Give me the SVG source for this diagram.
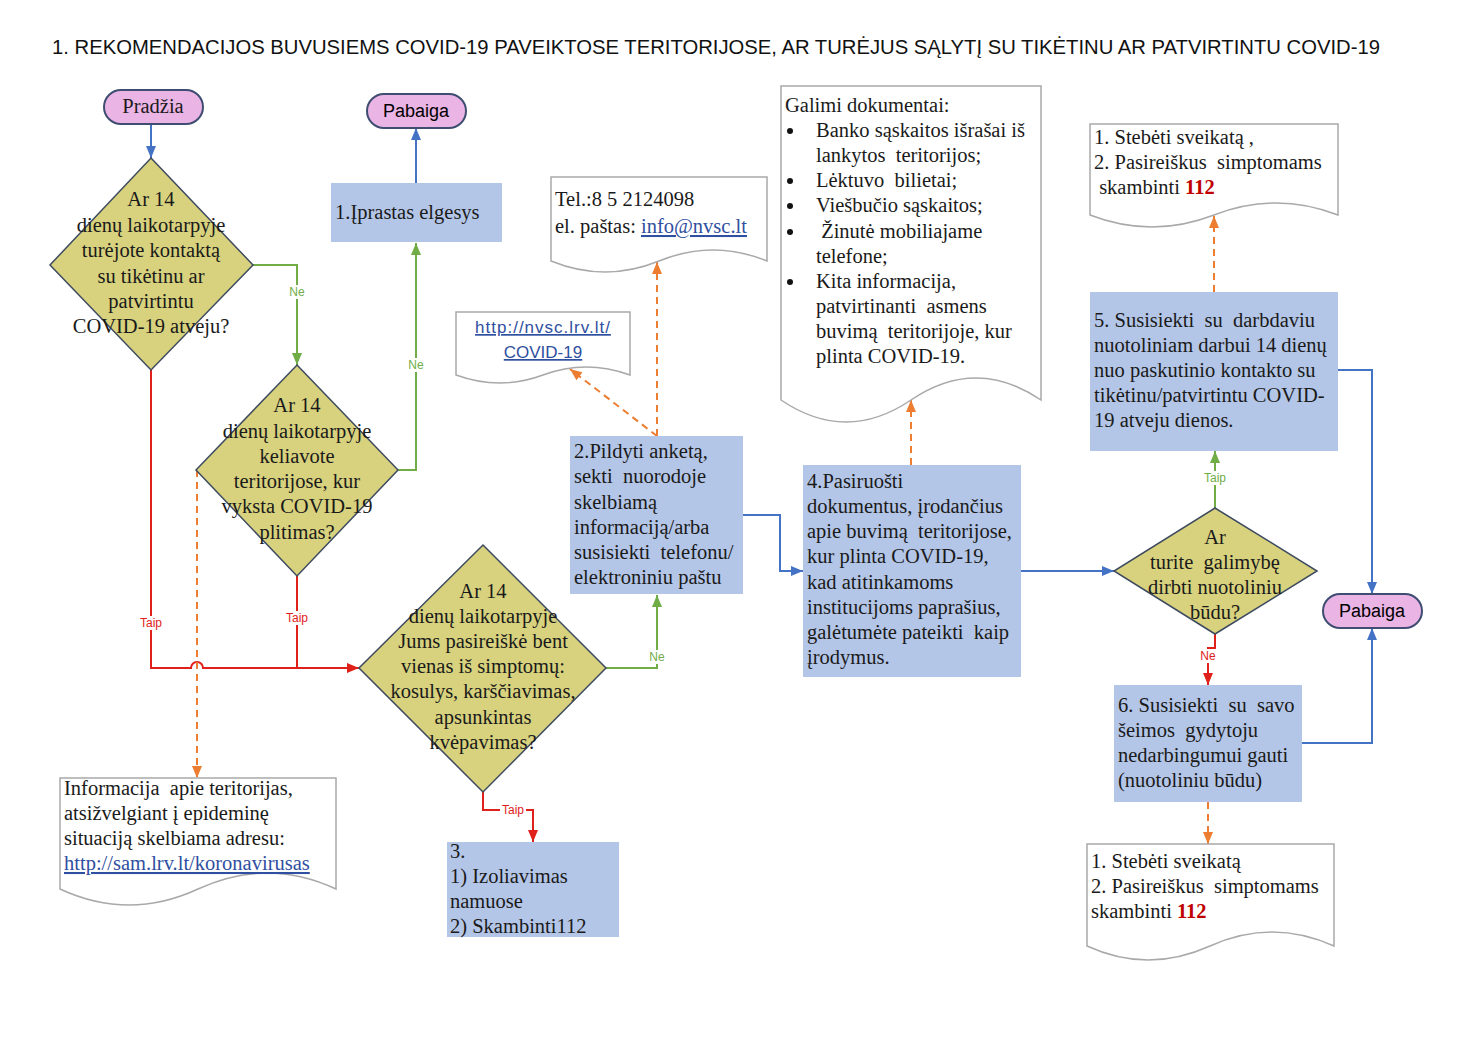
<svg xmlns="http://www.w3.org/2000/svg" width="1472" height="1040" viewBox="0 0 1472 1040" xml:space="preserve">
<defs>
<style>
.t{font-family:"Liberation Serif","Times New Roman",serif;font-size:20.5px;fill:#1a1a1a;white-space:pre}
.c{text-anchor:middle}
.s{font-family:"Liberation Sans",Arial,sans-serif}
.box{fill:#B4C6E7}
.dia{fill:#D8D27E;stroke:#3E4B5F;stroke-width:1.5}
.pill{fill:#EAB4E4;stroke:#3F4D72;stroke-width:2}
.doc{fill:#fff;stroke:#A9A9A9;stroke-width:1.5}
.lk{fill:#2F4FA0;text-decoration:underline}
.cb{stroke:#4472C4;stroke-width:2;fill:none}
.cg{stroke:#70AD47;stroke-width:2;fill:none}
.cr{stroke:#E0201B;stroke-width:2;fill:none}
.co{stroke:#ED7D31;stroke-width:2;fill:none;stroke-dasharray:7 5}
.lb{font-family:"Liberation Sans",Arial,sans-serif;font-size:12px;text-anchor:middle}
</style>
<marker id="mb" viewBox="0 0 12 10" refX="12" refY="5" markerWidth="12" markerHeight="10" markerUnits="userSpaceOnUse" orient="auto"><path d="M0,0 L12,5 L0,10 z" fill="#4472C4"/></marker>
<marker id="mg" viewBox="0 0 12 10" refX="12" refY="5" markerWidth="12" markerHeight="10" markerUnits="userSpaceOnUse" orient="auto"><path d="M0,0 L12,5 L0,10 z" fill="#70AD47"/></marker>
<marker id="mr" viewBox="0 0 12 10" refX="12" refY="5" markerWidth="12" markerHeight="10" markerUnits="userSpaceOnUse" orient="auto"><path d="M0,0 L12,5 L0,10 z" fill="#E0201B"/></marker>
<marker id="mo" viewBox="0 0 12 10" refX="12" refY="5" markerWidth="12" markerHeight="10" markerUnits="userSpaceOnUse" orient="auto"><path d="M0,0 L12,5 L0,10 z" fill="#ED7D31"/></marker>
</defs>
<rect width="1472" height="1040" fill="#fff"/>

<text x="52" y="54" font-family="Liberation Sans, Arial, sans-serif" font-size="20" fill="#111" textLength="1328" lengthAdjust="spacingAndGlyphs">1. REKOMENDACIJOS BUVUSIEMS COVID-19 PAVEIKTOSE TERITORIJOSE, AR TURĖJUS SĄLYTĮ SU TIKĖTINU AR PATVIRTINTU COVID-19</text>

<g id="connectors">
<path class="cb" d="M151,124 V158" marker-end="url(#mb)"/>
<path class="cb" d="M416,183 V128" marker-end="url(#mb)"/>
<path class="cb" d="M743,515 H780 V571 H803" marker-end="url(#mb)"/>
<path class="cb" d="M1021,571 H1114" marker-end="url(#mb)"/>
<path class="cb" d="M1338,370 H1372 V594" marker-end="url(#mb)"/>
<path class="cb" d="M1302,743 H1372 V628" marker-end="url(#mb)"/>
<path class="cg" d="M253,265 H297 V365" marker-end="url(#mg)"/>
<path class="cg" d="M398,470 H416 V243" marker-end="url(#mg)"/>
<path class="cg" d="M606,668 H657 V595" marker-end="url(#mg)"/>
<path class="cg" d="M1215,508 V451" marker-end="url(#mg)"/>
<path class="cr" d="M151,370 V668 H191 A6,6 0 0 1 203,668 H359" marker-end="url(#mr)"/>
<path class="cr" d="M297,576 V668"/>
<path class="cr" d="M483,792 V810 H533 V842" marker-end="url(#mr)"/>
<path class="cr" d="M1215,634 V648 H1208 V685" marker-end="url(#mr)"/>
<path class="co" d="M197,470 V778" marker-end="url(#mo)"/>
<path class="co" d="M657,436 V262" marker-end="url(#mo)"/>
<path class="co" d="M657,436 L570,369" marker-end="url(#mo)"/>
<path class="co" d="M911,465 V400" marker-end="url(#mo)"/>
<path class="co" d="M1214,292 V216" marker-end="url(#mo)"/>
<path class="co" d="M1208,802 V844" marker-end="url(#mo)"/>
<g fill="#fff">
<rect x="287" y="285" width="20" height="14"/>
<rect x="406" y="358" width="20" height="14"/>
<rect x="647" y="650" width="20" height="14"/>
<rect x="139" y="616" width="25" height="14"/>
<rect x="285" y="611" width="25" height="14"/>
<rect x="500" y="803" width="26" height="14"/>
<rect x="1202" y="471" width="26" height="14"/>
<rect x="1198" y="649" width="20" height="14"/>
</g>
<text class="lb" x="297" y="296" fill="#70AD47">Ne</text>
<text class="lb" x="416" y="369" fill="#70AD47">Ne</text>
<text class="lb" x="657" y="661" fill="#70AD47">Ne</text>
<text class="lb" x="151" y="627" fill="#E0201B">Taip</text>
<text class="lb" x="297" y="622" fill="#E0201B">Taip</text>
<text class="lb" x="513" y="814" fill="#E0201B">Taip</text>
<text class="lb" x="1215" y="482" fill="#70AD47">Taip</text>
<text class="lb" x="1208" y="660" fill="#E0201B">Ne</text>
</g>

<g id="start">
<rect class="pill" x="104" y="90" width="99" height="34" rx="17"/>
<text class="t c" x="153" y="113" font-size="20">Pradžia</text>
</g>

<g id="end1">
<rect class="pill" x="367" y="94" width="99" height="34" rx="17"/>
<text class="s c" x="416" y="117" font-size="18">Pabaiga</text>
</g>

<g id="end2">
<rect class="pill" x="1323" y="594" width="99" height="34" rx="17"/>
<text class="s c" x="1372" y="617" font-size="18">Pabaiga</text>
</g>

<g id="q1">
<path class="dia" d="M151,158 L253,265 L151,370 L50,265 z"/>
<text class="t c"><tspan x="151" y="206">Ar 14</tspan><tspan x="151" y="232">dienų laikotarpyje</tspan><tspan x="151" y="257">turėjote kontaktą</tspan><tspan x="151" y="283">su tikėtinu ar</tspan><tspan x="151" y="308">patvirtintu</tspan><tspan x="151" y="333">COVID-19 atveju?</tspan></text>
</g>

<g id="q2">
<path class="dia" d="M297,365 L398,470 L297,576 L196,470 z"/>
<text class="t c"><tspan x="297" y="412">Ar 14</tspan><tspan x="297" y="438">dienų laikotarpyje</tspan><tspan x="297" y="463">keliavote</tspan><tspan x="297" y="488">teritorijose, kur</tspan><tspan x="297" y="513">vyksta COVID-19</tspan><tspan x="297" y="539">plitimas?</tspan></text>
</g>

<g id="q3">
<path class="dia" d="M483,545 L606,668 L483,792 L359,668 z"/>
<text class="t c"><tspan x="483" y="598">Ar 14</tspan><tspan x="483" y="623">dienų laikotarpyje</tspan><tspan x="483" y="648">Jums pasireiškė bent</tspan><tspan x="483" y="673">vienas iš simptomų:</tspan><tspan x="483" y="698">kosulys, karščiavimas,</tspan><tspan x="483" y="724">apsunkintas</tspan><tspan x="483" y="749">kvėpavimas?</tspan></text>
</g>

<g id="q4">
<path class="dia" d="M1215,508 L1317,571 L1215,634 L1114,571 z"/>
<text class="t c"><tspan x="1215" y="544">Ar</tspan><tspan x="1215" y="569">turite  galimybę</tspan><tspan x="1215" y="594">dirbti nuotoliniu</tspan><tspan x="1215" y="619">būdu?</tspan></text>
</g>

<g id="box1">
<rect class="box" x="331" y="183" width="171" height="59"/>
<text class="t" x="335" y="219">1.Įprastas elgesys</text>
</g>

<g id="box2">
<rect class="box" x="570" y="436" width="173" height="158"/>
<text class="t"><tspan x="574" y="458">2.Pildyti anketą,</tspan><tspan x="574" y="483">sekti  nuorodoje</tspan><tspan x="574" y="509">skelbiamą</tspan><tspan x="574" y="534">informaciją/arba</tspan><tspan x="574" y="559">susisiekti  telefonu/</tspan><tspan x="574" y="584">elektroniniu paštu</tspan></text>
</g>

<g id="box3">
<rect class="box" x="447" y="842" width="172" height="95"/>
<text class="t"><tspan x="450" y="858">3.</tspan><tspan x="450" y="883">1) Izoliavimas</tspan><tspan x="450" y="908">namuose</tspan><tspan x="450" y="933">2) Skambinti112</tspan></text>
</g>

<g id="box4">
<rect class="box" x="803" y="465" width="218" height="212"/>
<text class="t"><tspan x="807" y="488">4.Pasiruošti</tspan><tspan x="807" y="513">dokumentus, įrodančius</tspan><tspan x="807" y="538">apie buvimą  teritorijose,</tspan><tspan x="807" y="563">kur plinta COVID-19,</tspan><tspan x="807" y="589">kad atitinkamoms</tspan><tspan x="807" y="614">institucijoms paprašius,</tspan><tspan x="807" y="639">galėtumėte pateikti  kaip</tspan><tspan x="807" y="664">įrodymus.</tspan></text>
</g>

<g id="box5">
<rect class="box" x="1090" y="292" width="248" height="159"/>
<text class="t"><tspan x="1094" y="327">5. Susisiekti  su  darbdaviu</tspan><tspan x="1094" y="352">nuotoliniam darbui 14 dienų</tspan><tspan x="1094" y="377">nuo paskutinio kontakto su</tspan><tspan x="1094" y="402">tikėtinu/patvirtintu COVID-</tspan><tspan x="1094" y="427">19 atveju dienos.</tspan></text>
</g>

<g id="box6">
<rect class="box" x="1114" y="685" width="188" height="117"/>
<text class="t"><tspan x="1118" y="712">6. Susisiekti  su  savo</tspan><tspan x="1118" y="737">šeimos  gydytoju</tspan><tspan x="1118" y="762">nedarbingumui gauti</tspan><tspan x="1118" y="787">(nuotoliniu būdu)</tspan></text>
</g>

<g id="doc-info">
<path class="doc" d="M60,778 H336 V889 Q267,857 198,889 T60,889 z"/>
<text class="t"><tspan x="64" y="795">Informacija  apie teritorijas,</tspan><tspan x="64" y="820">atsižvelgiant į epideminę</tspan><tspan x="64" y="845">situaciją skelbiama adresu:</tspan><tspan x="64" y="870" class="lk">http://sam.lrv.lt/koronavirusas</tspan></text>
</g>

<g id="doc-tel">
<path class="doc" d="M551,177 H767 V261 Q713,239 659,261 T551,261 z"/>
<text class="t"><tspan x="555" y="206">Tel.:8 5 2124098</tspan><tspan x="555" y="233">el. paštas: <tspan class="lk">info@nvsc.lt</tspan></tspan></text>
</g>

<g id="doc-nvsc">
<path class="doc" d="M456,312 H630 V375 Q586,359 543,375 T456,375 z"/>
<text class="s c lk" font-size="17" letter-spacing="1"><tspan x="543" y="333">http://nvsc.lrv.lt/</tspan><tspan x="543" y="358" letter-spacing="0">COVID-19</tspan></text>
</g>

<g id="doc-galimi">
<path class="doc" d="M781,86 H1041 V400 Q976,356 911,400 T781,400 z"/>
<text class="t"><tspan x="785" y="112">Galimi dokumentai:</tspan><tspan x="816" y="137">Banko sąskaitos išrašai iš</tspan><tspan x="816" y="162">lankytos  teritorijos;</tspan><tspan x="816" y="187">Lėktuvo  bilietai;</tspan><tspan x="816" y="212">Viešbučio sąskaitos;</tspan><tspan x="816" y="238"> Žinutė mobiliajame</tspan><tspan x="816" y="263">telefone;</tspan><tspan x="816" y="288">Kita informacija,</tspan><tspan x="816" y="313">patvirtinanti  asmens</tspan><tspan x="816" y="338">buvimą  teritorijoje, kur</tspan><tspan x="816" y="363">plinta COVID-19.</tspan></text>
<g fill="#111"><circle cx="790" cy="131" r="3"/><circle cx="790" cy="181" r="3"/><circle cx="790" cy="206" r="3"/><circle cx="790" cy="232" r="3"/><circle cx="790" cy="282" r="3"/></g>
</g>

<g id="doc-monitor1">
<path class="doc" d="M1090,124 H1338 V215 Q1276,191 1214,215 T1090,215 z"/>
<text class="t"><tspan x="1094" y="144">1. Stebėti sveikatą ,</tspan><tspan x="1094" y="169">2. Pasireiškus  simptomams</tspan><tspan x="1094" y="194"> skambinti <tspan fill="#C00000" font-weight="bold">112</tspan></tspan></text>
</g>

<g id="doc-monitor2">
<path class="doc" d="M1087,844 H1334 V946 Q1272,918 1210,946 T1087,946 z"/>
<text class="t"><tspan x="1091" y="868">1. Stebėti sveikatą</tspan><tspan x="1091" y="893">2. Pasireiškus  simptomams</tspan><tspan x="1091" y="918">skambinti <tspan fill="#C00000" font-weight="bold">112</tspan></tspan></text>
</g>
</svg>
